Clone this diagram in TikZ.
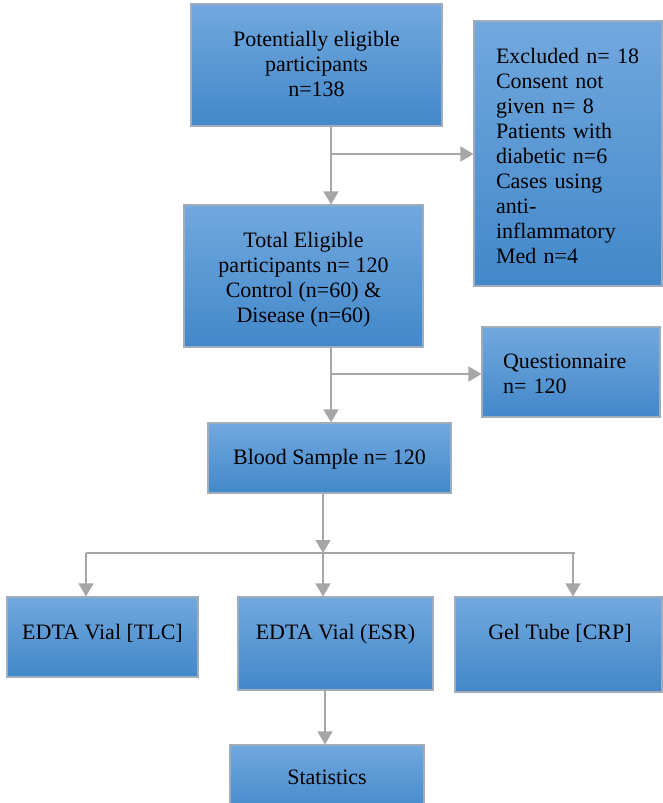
\documentclass[tikz,border=0pt]{standalone}
\usepackage{fontspec}
\setmainfont{Liberation Serif}
\usetikzlibrary{arrows.meta}
\definecolor{boxtop}{RGB}{114,168,222}
\definecolor{boxbottom}{RGB}{66,136,202}
\definecolor{boxline}{RGB}{160,172,186}
\definecolor{arrowgray}{RGB}{166,166,166}

\begin{document}
\begin{tikzpicture}[x=1pt,y=-1pt,
  box/.style={draw=boxline,line width=1.2pt,top color=boxtop,bottom color=boxbottom,inner sep=0pt},
  txt/.style={font=\fontsize{22}{25}\selectfont,inner sep=0pt,anchor=north},
  flow/.style={draw=arrowgray,line width=1.8pt,-{Triangle[width=15pt,length=13pt]}},
  link/.style={draw=arrowgray,line width=1.8pt}]
\useasboundingbox (0,0) rectangle (662,803);

\node[box,minimum width=251pt,minimum height=122pt] (pot) at (316.5,65) {};
\node[box,minimum width=188pt,minimum height=265pt] (exc) at (568,153.5) {};
\node[box,minimum width=239pt,minimum height=142pt] (tot) at (303.5,276) {};
\node[box,minimum width=178pt,minimum height=90pt] (quest) at (571,372) {};
\node[box,minimum width=243pt,minimum height=70pt] (blood) at (329.5,458) {};
\node[box,minimum width=191pt,minimum height=80pt] (tlc) at (102.5,637) {};
\node[box,minimum width=195pt,minimum height=93pt] (esr) at (335.5,643.5) {};
\node[box,minimum width=207pt,minimum height=95pt] (gel) at (558.5,644.5) {};
\node[box,minimum width=194pt,minimum height=70pt] (stat) at (327,780) {};

\node[txt,align=center] (pot-t) at (316.5,31) {Potentially eligible\\participants\\n=138};
\node[txt,text width=144pt,align=left] (exc-t) at (568,48) {Excluded n= 18\\Consent not\\given n= 8\\Patients with\\diabetic n=6\\Cases using\\anti-\\inflammatory\\Med n=4};
\node[txt,align=center] (tot-t) at (303.5,232) {Total Eligible\\participants n= 120\\Control (n=60) \&\\Disease (n=60)};
\node[txt,text width=136pt,align=left] (quest-t) at (571,354) {Questionnaire\\n= 120};
\node[txt] (blood-t) at (329.5,449) {Blood Sample n= 120};
\node[txt] (tlc-t) at (102.5,624) {EDTA Vial [TLC]};
\node[txt] (esr-t) at (335.5,624) {EDTA Vial (ESR)};
\node[txt] (gel-t) at (560,624) {Gel Tube [CRP]};
\node[txt] (stat-t) at (327,770) {Statistics};

\coordinate (b1) at (331,154);
\coordinate (b2) at (331,374);
\coordinate (b3) at (323,553);
\coordinate (left) at (86,553);
\coordinate (right) at (575,553);
\coordinate (tlc-in) at (86,553);
\coordinate (esr-in) at (323,553);
\coordinate (gel-in) at (573,553);
\coordinate (s1) at (325,720);

\draw[flow] (pot.south -| b1) -- (tot.north -| b1);
\draw[flow] (b1) -- (b1 -| exc.west);
\draw[flow] (tot.south -| b2) -- (blood.north -| b2);
\draw[flow] (b2) -- (b2 -| quest.west);
\draw[flow] (blood.south -| b3) -- (b3);
\draw[link] (left) -- (right);

\foreach \to in {tlc,esr,gel}
	\draw[flow] (\to-in) -- (\to-in |- \to.north);

\draw[flow] (esr.south -| s1) -- (stat.north -| s1);

\end{tikzpicture}
\end{document}
